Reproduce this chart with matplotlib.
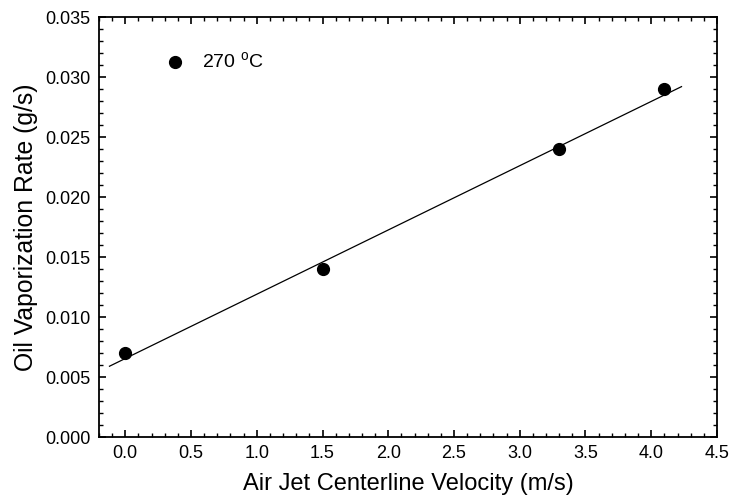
import matplotlib
matplotlib.use("Agg")
import matplotlib.pyplot as plt
from matplotlib.ticker import MultipleLocator, FormatStrFormatter

plt.rcParams['font.family'] = ['Liberation Sans', 'DejaVu Sans']
plt.rcParams['mathtext.fontset'] = 'custom'
plt.rcParams['mathtext.rm'] = 'Liberation Sans'

velocity = [0.0, 1.5, 3.3, 4.1]
rate = [0.007, 0.014, 0.024, 0.029]
fit_x = [-0.12, 4.23]
fit_y = [0.0059, 0.0292]
series_label = '270 $^\\mathregular{o}$C'

fig = plt.figure(figsize=(7.32, 5.01), dpi=100)
ax = fig.add_axes([0.1352, 0.1277, 0.8443, 0.8383])

ax.plot(fit_x, fit_y, color='black', linewidth=0.9)
ax.plot(velocity, rate, 'o', color='black', markersize=8.5, linestyle='none', label=series_label)

ax.set_xlim(-0.2, 4.5)
ax.set_ylim(0.0, 0.035)
ax.xaxis.set_major_locator(MultipleLocator(0.5))
ax.xaxis.set_minor_locator(MultipleLocator(0.1))
ax.yaxis.set_major_locator(MultipleLocator(0.005))
ax.yaxis.set_minor_locator(MultipleLocator(0.001))
ax.xaxis.set_major_formatter(FormatStrFormatter('%.1f'))
ax.yaxis.set_major_formatter(FormatStrFormatter('%.3f'))
ax.tick_params(which='both', direction='in', top=True, right=True, labelsize=13)
ax.tick_params(which='major', length=5, width=1.2, pad=6)
ax.tick_params(which='minor', length=3, width=1.0)
for s in ax.spines.values():
    s.set_linewidth(1.3)

ax.set_xlabel('Air Jet Centerline Velocity (m/s)', fontsize=17, labelpad=8)
ax.set_ylabel('Oil Vaporization Rate (g/s)', fontsize=17.8, labelpad=5)

ax.legend(loc='center left', frameon=False, fontsize=14, handletextpad=0.8,
          bbox_to_anchor=(0.0914, 0.893), borderaxespad=0.0, handlelength=1.2,
          borderpad=0.4)

fig.savefig('out.png', dpi=100)
